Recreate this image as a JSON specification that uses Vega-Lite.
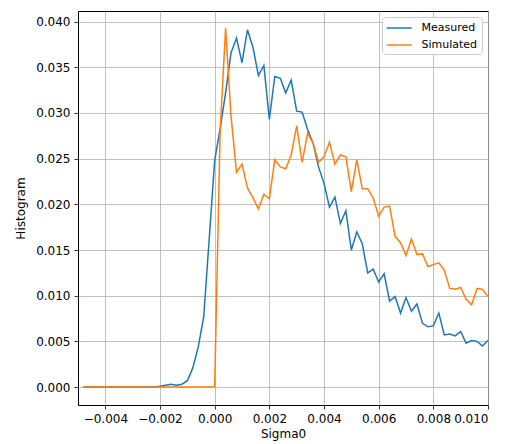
{
  "$schema": "https://vega.github.io/schema/vega-lite/v6.json",
  "width": 410,
  "height": 394,
  "autosize": "none",
  "padding": {"left": 78, "top": 11, "right": 22, "bottom": 39},
  "background": "white",
  "config": {
    "font": "DejaVu Sans",
    "view": {"stroke": "#000000", "strokeWidth": 1},
    "axis": {
      "domain": false,
      "grid": true,
      "gridColor": "#b0b0b0",
      "gridWidth": 0.8,
      "tickColor": "#000000",
      "tickSize": 4,
      "tickWidth": 0.8,
      "labelFontSize": 12,
      "labelColor": "#000000",
      "titleFontSize": 12,
      "titleFontWeight": "normal",
      "titleColor": "#000000",
      "labelPadding": 4
    },
    "legend": {
      "labelFontSize": 11,
      "labelColor": "#000000"
    }
  },
  "data": {
    "values": [
      {"x": -0.0048, "Measured": 0, "Simulated": 0},
      {"x": -0.0046, "Measured": 0, "Simulated": 0},
      {"x": -0.0044, "Measured": 0, "Simulated": 0},
      {"x": -0.0042, "Measured": 0, "Simulated": 0},
      {"x": -0.0040, "Measured": 0, "Simulated": 0},
      {"x": -0.0038, "Measured": 0, "Simulated": 0},
      {"x": -0.0036, "Measured": 0, "Simulated": 0},
      {"x": -0.0034, "Measured": 0, "Simulated": 0},
      {"x": -0.0032, "Measured": 0, "Simulated": 0},
      {"x": -0.0030, "Measured": 0, "Simulated": 0},
      {"x": -0.0028, "Measured": 0, "Simulated": 0},
      {"x": -0.0026, "Measured": 0, "Simulated": 0},
      {"x": -0.0024, "Measured": 0, "Simulated": 0},
      {"x": -0.0022, "Measured": 0, "Simulated": 0},
      {"x": -0.0020, "Measured": 0.0001, "Simulated": 0},
      {"x": -0.0018, "Measured": 0.0002, "Simulated": 0},
      {"x": -0.0016, "Measured": 0.0003, "Simulated": 0},
      {"x": -0.0014, "Measured": 0.0002, "Simulated": 0},
      {"x": -0.0012, "Measured": 0.0003, "Simulated": 0},
      {"x": -0.0010, "Measured": 0.0007, "Simulated": 0},
      {"x": -0.0008, "Measured": 0.0021, "Simulated": 0},
      {"x": -0.0006, "Measured": 0.0044, "Simulated": 0},
      {"x": -0.0004, "Measured": 0.0077, "Simulated": 0},
      {"x": -0.0002, "Measured": 0.0162, "Simulated": 0},
      {"x": 0.0000, "Measured": 0.0248, "Simulated": 0},
      {"x": 0.0002, "Measured": 0.0283, "Simulated": 0.0280},
      {"x": 0.0004, "Measured": 0.0322, "Simulated": 0.0393},
      {"x": 0.0006, "Measured": 0.0366, "Simulated": 0.0296},
      {"x": 0.0008, "Measured": 0.0382, "Simulated": 0.0235},
      {"x": 0.0010, "Measured": 0.0355, "Simulated": 0.0244},
      {"x": 0.0012, "Measured": 0.0391, "Simulated": 0.0218},
      {"x": 0.0014, "Measured": 0.0372, "Simulated": 0.0207},
      {"x": 0.0016, "Measured": 0.0341, "Simulated": 0.0195},
      {"x": 0.0018, "Measured": 0.0352, "Simulated": 0.0211},
      {"x": 0.0020, "Measured": 0.0293, "Simulated": 0.0206},
      {"x": 0.0022, "Measured": 0.0340, "Simulated": 0.0249},
      {"x": 0.0024, "Measured": 0.0338, "Simulated": 0.0241},
      {"x": 0.0026, "Measured": 0.0322, "Simulated": 0.0239},
      {"x": 0.0028, "Measured": 0.0336, "Simulated": 0.0254},
      {"x": 0.0030, "Measured": 0.0302, "Simulated": 0.0286},
      {"x": 0.0032, "Measured": 0.0301, "Simulated": 0.0246},
      {"x": 0.0034, "Measured": 0.0282, "Simulated": 0.0278},
      {"x": 0.0036, "Measured": 0.0267, "Simulated": 0.0267},
      {"x": 0.0038, "Measured": 0.0241, "Simulated": 0.0246},
      {"x": 0.0040, "Measured": 0.0223, "Simulated": 0.0252},
      {"x": 0.0042, "Measured": 0.0197, "Simulated": 0.0268},
      {"x": 0.0044, "Measured": 0.0208, "Simulated": 0.0244},
      {"x": 0.0046, "Measured": 0.0179, "Simulated": 0.0254},
      {"x": 0.0048, "Measured": 0.0193, "Simulated": 0.0252},
      {"x": 0.0050, "Measured": 0.0150, "Simulated": 0.0214},
      {"x": 0.0052, "Measured": 0.0170, "Simulated": 0.0249},
      {"x": 0.0054, "Measured": 0.0157, "Simulated": 0.0217},
      {"x": 0.0056, "Measured": 0.0125, "Simulated": 0.0217},
      {"x": 0.0058, "Measured": 0.0129, "Simulated": 0.0207},
      {"x": 0.0060, "Measured": 0.0115, "Simulated": 0.0187},
      {"x": 0.0062, "Measured": 0.0124, "Simulated": 0.0197},
      {"x": 0.0064, "Measured": 0.0094, "Simulated": 0.0198},
      {"x": 0.0066, "Measured": 0.0099, "Simulated": 0.0165},
      {"x": 0.0068, "Measured": 0.0081, "Simulated": 0.0158},
      {"x": 0.0070, "Measured": 0.0098, "Simulated": 0.0144},
      {"x": 0.0072, "Measured": 0.0083, "Simulated": 0.0162},
      {"x": 0.0074, "Measured": 0.0091, "Simulated": 0.0145},
      {"x": 0.0076, "Measured": 0.0070, "Simulated": 0.0146},
      {"x": 0.0078, "Measured": 0.0066, "Simulated": 0.0132},
      {"x": 0.0080, "Measured": 0.0067, "Simulated": 0.0134},
      {"x": 0.0082, "Measured": 0.0081, "Simulated": 0.0136},
      {"x": 0.0084, "Measured": 0.0057, "Simulated": 0.0128},
      {"x": 0.0086, "Measured": 0.0058, "Simulated": 0.0108},
      {"x": 0.0088, "Measured": 0.0056, "Simulated": 0.0107},
      {"x": 0.0090, "Measured": 0.0061, "Simulated": 0.0109},
      {"x": 0.0092, "Measured": 0.0048, "Simulated": 0.0096},
      {"x": 0.0094, "Measured": 0.0051, "Simulated": 0.0090},
      {"x": 0.0096, "Measured": 0.0050, "Simulated": 0.0108},
      {"x": 0.0098, "Measured": 0.0045, "Simulated": 0.0107},
      {"x": 0.0100, "Measured": 0.0051, "Simulated": 0.0099}
    ]
  },
  "transform": [
    {"fold": ["Measured", "Simulated"], "as": ["series", "value"]}
  ],
  "mark": {"type": "line", "strokeWidth": 1.5, "clip": true},
  "encoding": {
    "x": {
      "field": "x",
      "type": "quantitative",
      "title": "Sigma0",
      "scale": {"domain": [-0.005, 0.010], "nice": false, "zero": false},
      "axis": {
        "values": [-0.004, -0.002, 0, 0.002, 0.004, 0.006, 0.008, 0.010],
        "format": ".3f",
        "titlePadding": 4
      }
    },
    "y": {
      "field": "value",
      "type": "quantitative",
      "title": "Histogram",
      "scale": {"domain": [-0.00196, 0.04116], "nice": false, "zero": false},
      "axis": {
        "values": [0, 0.005, 0.010, 0.015, 0.020, 0.025, 0.030, 0.035, 0.040],
        "format": ".3f",
        "titlePadding": 8
      }
    },
    "color": {
      "field": "series",
      "type": "nominal",
      "scale": {"domain": ["Measured", "Simulated"], "range": ["#1f77b4", "#ff7f0e"]},
      "legend": {
        "title": null,
        "orient": "top-right",
        "offset": 6,
        "fillColor": "white",
        "strokeColor": "#cccccc",
        "cornerRadius": 3,
        "padding": 4,
        "symbolType": "M -1 0 H 3",
        "symbolSize": 156.25,
        "symbolStrokeWidth": 1.5,
        "labelOffset": 21.5,
        "rowPadding": 5
      }
    }
  }
}
